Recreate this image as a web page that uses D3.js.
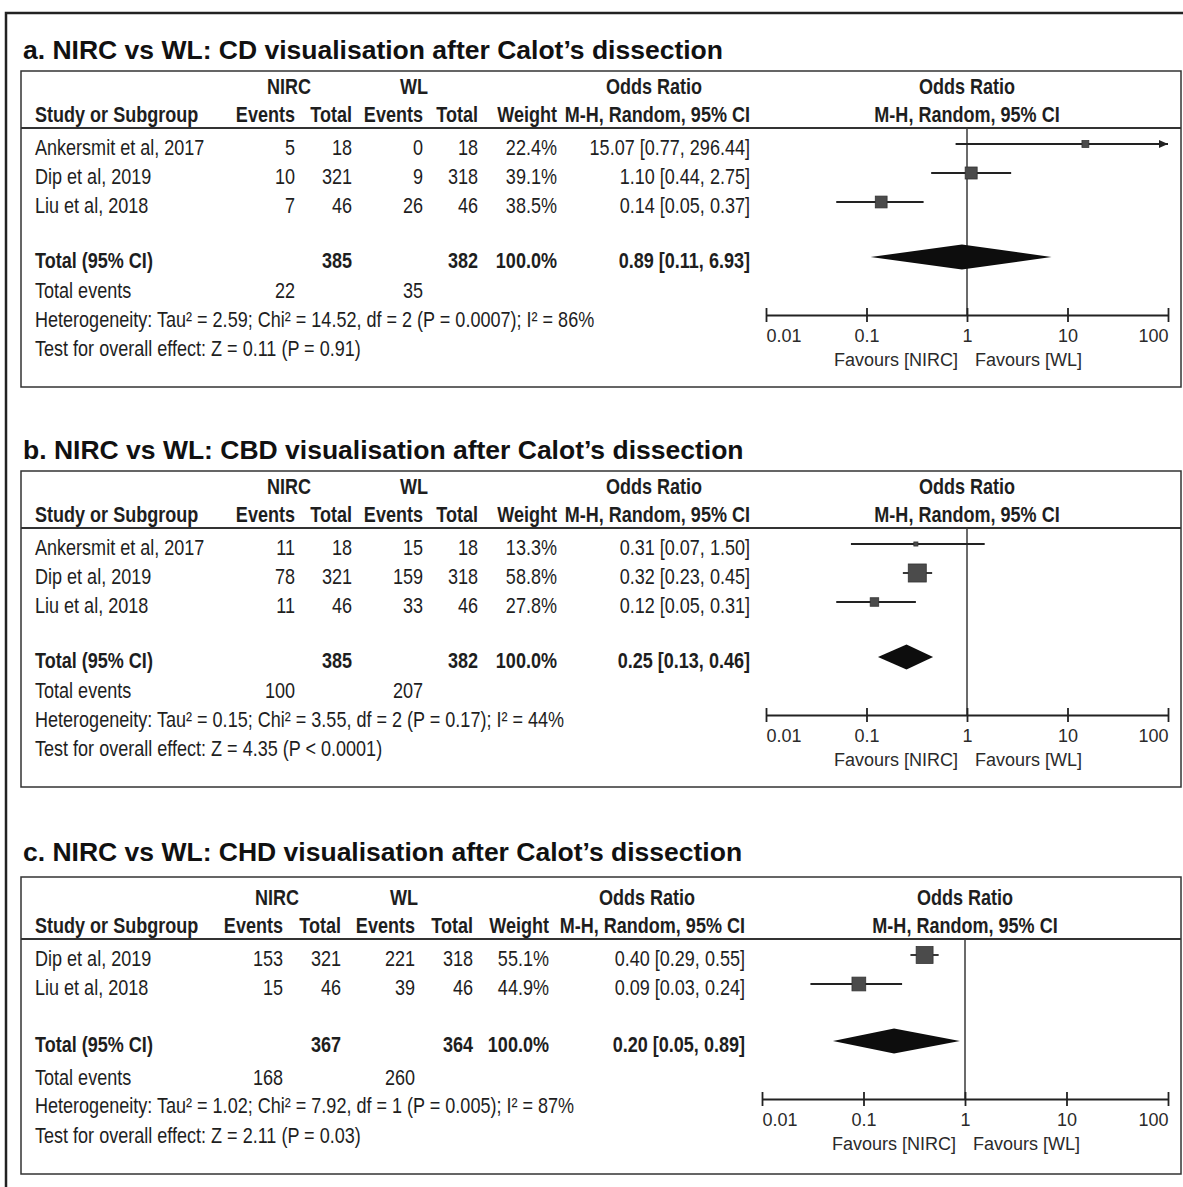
<!DOCTYPE html>
<html>
<head>
<meta charset="utf-8">
<script src="https://cdn.jsdelivr.net/npm/d3@7"></script>
<style>
  body { margin: 0; background: #fff; }
  svg { display: block; }
</style>
</head>
<body>
<script>
// ---- data ----
var ticks = [0.01, 0.1, 1, 10, 100];
var tickLabels = ["0.01", "0.1", "1", "10", "100"];

// a. CD visualisation
var titleA = "a. NIRC vs WL: CD visualisation after Calot\u2019s dissection";
var studyA = ["Ankersmit et al, 2017", "Dip et al, 2019", "Liu et al, 2018"];
var nircEvA = [5, 10, 7], nircTotA = [18, 321, 46];
var wlEvA = [0, 9, 26], wlTotA = [18, 318, 46];
var weightA = [22.4, 39.1, 38.5];
var orA = [15.07, 1.10, 0.14], loA = [0.77, 0.44, 0.05], hiA = [296.44, 2.75, 0.37];
var pooledA = [0.89, 0.11, 6.93];
var sumA = [385, 382], eventsA = [22, 35];
var hetA = "Heterogeneity: Tau\u00b2 = 2.59; Chi\u00b2 = 14.52, df = 2 (P = 0.0007); I\u00b2 = 86%";
var testA = "Test for overall effect: Z = 0.11 (P = 0.91)";

// b. CBD visualisation
var titleB = "b. NIRC vs WL: CBD visualisation after Calot\u2019s dissection";
var studyB = ["Ankersmit et al, 2017", "Dip et al, 2019", "Liu et al, 2018"];
var nircEvB = [11, 78, 11], nircTotB = [18, 321, 46];
var wlEvB = [15, 159, 33], wlTotB = [18, 318, 46];
var weightB = [13.3, 58.8, 27.8];
var orB = [0.31, 0.32, 0.12], loB = [0.07, 0.23, 0.05], hiB = [1.50, 0.45, 0.31];
var pooledB = [0.25, 0.13, 0.46];
var sumB = [385, 382], eventsB = [100, 207];
var hetB = "Heterogeneity: Tau\u00b2 = 0.15; Chi\u00b2 = 3.55, df = 2 (P = 0.17); I\u00b2 = 44%";
var testB = "Test for overall effect: Z = 4.35 (P < 0.0001)";

// c. CHD visualisation
var titleC = "c. NIRC vs WL: CHD visualisation after Calot\u2019s dissection";
var studyC = ["Dip et al, 2019", "Liu et al, 2018"];
var nircEvC = [153, 15], nircTotC = [321, 46];
var wlEvC = [221, 39], wlTotC = [318, 46];
var weightC = [55.1, 44.9];
var orC = [0.40, 0.09], loC = [0.29, 0.03], hiC = [0.55, 0.24];
var pooledC = [0.20, 0.05, 0.89];
var sumC = [367, 364], eventsC = [168, 260];
var hetC = "Heterogeneity: Tau\u00b2 = 1.02; Chi\u00b2 = 7.92, df = 1 (P = 0.005); I\u00b2 = 87%";
var testC = "Test for overall effect: Z = 2.11 (P = 0.03)";

// total weight printed on each "Total (95% CI)" row
var totalWeight = [100.0, 100.0, 100.0];

var width = 1183, height = 1187;

var svg = d3.select("body").append("svg")
    .attr("width", width)
    .attr("height", height);

// narrow face if there is one, otherwise squeeze the regular one
function measure(family) {
    var t = svg.append("text").style("font-size", "22px").style("font-family", family)
        .text("Ankersmit et al, 2017");
    var w = t.node().getComputedTextLength();
    t.remove();
    return w;
}
var hasNarrow = measure("'Liberation Sans Narrow', monospace") !== measure("monospace");
var tableFont = hasNarrow ? "'Liberation Sans Narrow', 'Arial Narrow', sans-serif" : "'Liberation Sans', Arial, sans-serif";
var sx = hasNarrow ? 1 : 0.82;

var panels = [
    { title: titleA, study: studyA, nircEv: nircEvA, nircTot: nircTotA, wlEv: wlEvA, wlTot: wlTotA,
      weight: weightA, or: orA, lo: loA, hi: hiA, pooled: pooledA, sum: sumA, events: eventsA, het: hetA, test: testA,
      totW: totalWeight[0],
      oy: 0, titleY: 59, boxTop: 71, cols: [295, 352, 423, 478, 557, 750], nircX: 289, wlX: 414, orHeadX: 654,
      axisL: 766, gaps: [55, 30, 29, 29] },
    { title: titleB, study: studyB, nircEv: nircEvB, nircTot: nircTotB, wlEv: wlEvB, wlTot: wlTotB,
      weight: weightB, or: orB, lo: loB, hi: hiB, pooled: pooledB, sum: sumB, events: eventsB, het: hetB, test: testB,
      totW: totalWeight[1],
      oy: 400, titleY: 459, boxTop: 471, cols: [295, 352, 423, 478, 557, 750], nircX: 289, wlX: 414, orHeadX: 654,
      axisL: 766, gaps: [55, 30, 29, 29] },
    { title: titleC, study: studyC, nircEv: nircEvC, nircTot: nircTotC, wlEv: wlEvC, wlTot: wlTotC,
      weight: weightC, or: orC, lo: loC, hi: hiC, pooled: pooledC, sum: sumC, events: eventsC, het: hetC, test: testC,
      totW: totalWeight[2],
      oy: 811, titleY: 861, boxTop: 877, cols: [283, 341, 415, 473, 549, 745], nircX: 277, wlX: 404, orHeadX: 647,
      axisL: 762, gaps: [57, 33, 28, 30] }
];

var f2 = d3.format(".2f"), f1 = d3.format(".1f");
var size = d3.scaleLinear().domain([0, 60]).range([0, 18.4]);

// outer frame (only top and left edges are inside the picture)
svg.append("rect")
    .attr("x", 6).attr("y", 13)
    .attr("width", 1200).attr("height", 1200)
    .style("fill", "none").style("stroke", "#222").style("stroke-width", 2.5);

panels.forEach(drawPanel);

function label(g, x, y, str, anchor, bold) {
    return g.append("text")
        .attr("transform", "translate(" + x + "," + y + ") scale(" + sx + ",1)")
        .attr("text-anchor", anchor || "start")
        .style("font-family", tableFont)
        .style("font-size", "22px")
        .style("font-weight", bold ? "bold" : "normal")
        .style("fill", "#1e1e1e")
        .text(str);
}

function orText(v, lo, hi) {
    return f2(v) + " [" + f2(lo) + ", " + f2(hi) + "]";
}

function drawPanel(p) {
    var g = svg.append("g");
    var n = p.study.length;
    var c = p.cols;
    var x = d3.scaleLog().domain([ticks[0], ticks[ticks.length - 1]]).range([p.axisL, 1168]);

    var rowBase = function(i) { return p.oy + 155 + 29 * i; };
    var totalBase = rowBase(n - 1) + p.gaps[0];
    var eventsBase = totalBase + p.gaps[1];
    var hetBase = eventsBase + p.gaps[2];
    var testBase = hetBase + p.gaps[3];
    var boxBottom = testBase + 31;
    var axisY = totalBase + 47;
    var headLine = p.oy + 128;

    g.append("text")
        .attr("x", 23).attr("y", p.titleY)
        .style("font-family", "'Liberation Sans', Arial, sans-serif")
        .style("font-size", "26.5px")
        .style("font-weight", "bold")
        .style("fill", "#111")
        .text(p.title);

    g.append("rect")
        .attr("x", 21).attr("y", p.boxTop)
        .attr("width", 1160).attr("height", boxBottom - p.boxTop)
        .style("fill", "none").style("stroke", "#333").style("stroke-width", 1.5);

    g.append("line")
        .attr("x1", 21).attr("x2", 1181)
        .attr("y1", headLine).attr("y2", headLine)
        .style("stroke", "#333").style("stroke-width", 2);

    // headers
    var h1 = p.oy + 94, h2 = p.oy + 122;
    label(g, p.nircX, h1, "NIRC", "middle", true);
    label(g, p.wlX, h1, "WL", "middle", true);
    label(g, p.orHeadX, h1, "Odds Ratio", "middle", true);
    label(g, x(1), h1, "Odds Ratio", "middle", true);
    label(g, 35, h2, "Study or Subgroup", "start", true);
    label(g, c[0], h2, "Events", "end", true);
    label(g, c[1], h2, "Total", "end", true);
    label(g, c[2], h2, "Events", "end", true);
    label(g, c[3], h2, "Total", "end", true);
    label(g, c[4], h2, "Weight", "end", true);
    label(g, c[5], h2, "M-H, Random, 95% CI", "end", true);
    label(g, x(1), h2, "M-H, Random, 95% CI", "middle", true);

    // study rows
    p.study.forEach(function(s, i) {
        var y = rowBase(i);
        label(g, 35, y, s, "start");
        label(g, c[0], y, p.nircEv[i], "end");
        label(g, c[1], y, p.nircTot[i], "end");
        label(g, c[2], y, p.wlEv[i], "end");
        label(g, c[3], y, p.wlTot[i], "end");
        label(g, c[4], y, f1(p.weight[i]) + "%", "end");
        label(g, c[5], y, orText(p.or[i], p.lo[i], p.hi[i]), "end");
    });

    // totals
    label(g, 35, totalBase, "Total (95% CI)", "start", true);
    label(g, c[1], totalBase, p.sum[0], "end", true);
    label(g, c[3], totalBase, p.sum[1], "end", true);
    label(g, c[4], totalBase, f1(p.totW) + "%", "end", true);
    label(g, c[5], totalBase, orText(p.pooled[0], p.pooled[1], p.pooled[2]), "end", true);
    label(g, 35, eventsBase, "Total events", "start");
    label(g, c[0], eventsBase, p.events[0], "end");
    label(g, c[2], eventsBase, p.events[1], "end");
    label(g, 35, hetBase, p.het, "start");
    label(g, 35, testBase, p.test, "start");

    // forest plot
    var dom = x.domain();
    g.append("line")
        .attr("x1", x(1)).attr("x2", x(1))
        .attr("y1", headLine).attr("y2", axisY)
        .style("stroke", "#3a3a3a").style("stroke-width", 1.5);

    var rows = p.study.map(function(s, i) {
        return { or: p.or[i], lo: p.lo[i], hi: p.hi[i], w: p.weight[i], y: rowBase(i) - 11 };
    });

    g.selectAll("line.ci")
        .data(rows)
        .enter()
        .append("line")
        .attr("class", "ci")
        .attr("x1", function(d) { return x(Math.max(d.lo, dom[0])); })
        .attr("x2", function(d) { return x(Math.min(d.hi, dom[1])); })
        .attr("y1", function(d) { return d.y; })
        .attr("y2", function(d) { return d.y; })
        .style("stroke", "#222").style("stroke-width", 1.8);

    g.selectAll("path.arrow")
        .data(rows.filter(function(d) { return d.hi > dom[1]; }))
        .enter()
        .append("path")
        .attr("class", "arrow")
        .attr("d", function(d) {
            var xe = x(dom[1]);
            return "M" + xe + "," + d.y + "L" + (xe - 9) + "," + (d.y - 4) + "L" + (xe - 9) + "," + (d.y + 4) + "Z";
        })
        .style("fill", "#222");

    g.selectAll("rect.sq")
        .data(rows)
        .enter()
        .append("rect")
        .attr("class", "sq")
        .attr("x", function(d) { return x(d.or) - size(d.w) / 2; })
        .attr("y", function(d) { return d.y - size(d.w) / 2; })
        .attr("width", function(d) { return size(d.w); })
        .attr("height", function(d) { return size(d.w); })
        .style("fill", "#4b4b4b").style("stroke", "#333").style("stroke-width", 0.8);

    var dy = totalBase - 11;
    g.append("path")
        .datum(p.pooled)
        .attr("d", function(d) {
            return "M" + x(d[1]) + "," + dy + "L" + x(d[0]) + "," + (dy - 12.5) +
                "L" + x(d[2]) + "," + dy + "L" + x(d[0]) + "," + (dy + 12.5) + "Z";
        })
        .style("fill", "#0d0d0d");

    var axis = d3.axisBottom(x)
        .tickValues(ticks)
        .tickFormat(function(d, i) { return tickLabels[i]; })
        .tickSizeOuter(0)
        .tickSizeInner(7);

    var ax = g.append("g")
        .attr("transform", "translate(0," + axisY + ")")
        .call(axis);
    ax.select(".domain").style("stroke", "#222").style("stroke-width", 2);
    ax.selectAll(".tick line").attr("y1", -7).attr("y2", 7)
        .style("stroke", "#222").style("stroke-width", 1.8);
    ax.selectAll(".tick text")
        .attr("y", 27).attr("dy", 0)
        .attr("text-anchor", function(d, i) { return i === 0 ? "start" : (i === ticks.length - 1 ? "end" : "middle"); })
        .style("font-family", "'Liberation Sans', Arial, sans-serif")
        .style("font-size", "18px")
        .style("fill", "#2a2a2a");

    g.append("text")
        .attr("x", x(1) - 9).attr("y", axisY + 51)
        .attr("text-anchor", "end")
        .style("font-family", "'Liberation Sans', Arial, sans-serif")
        .style("font-size", "18px").style("fill", "#2a2a2a")
        .text("Favours [NIRC]");
    g.append("text")
        .attr("x", x(1) + 8).attr("y", axisY + 51)
        .attr("text-anchor", "start")
        .style("font-family", "'Liberation Sans', Arial, sans-serif")
        .style("font-size", "18px").style("fill", "#2a2a2a")
        .text("Favours [WL]");
}
</script>
</body>
</html>
